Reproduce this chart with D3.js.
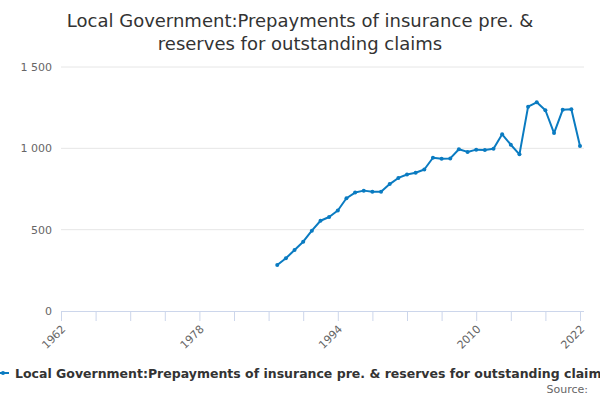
<!DOCTYPE html>
<html>
<head>
<meta charset="utf-8">
<script src="https://cdn.jsdelivr.net/npm/d3@7"></script>
<style>
  body { margin: 0; background: #fff; }
  text { font-family: "DejaVu Sans", sans-serif; }
</style>
</head>
<body>
<div id="chart"></div>
<script>
// chart data
const years = [1987, 1988, 1989, 1990, 1991, 1992, 1993, 1994, 1995, 1996,
  1997, 1998, 1999, 2000, 2001, 2002, 2003, 2004, 2005, 2006,
  2007, 2008, 2009, 2010, 2011, 2012, 2013, 2014, 2015, 2016,
  2017, 2018, 2019, 2020, 2021, 2022];
const values = [283, 324, 375, 426, 494, 555, 578, 618, 693, 728,
  740, 733, 733, 780, 818, 839, 850, 870, 942, 936,
  938, 994, 978, 992, 990, 998, 1086, 1022, 963, 1256,
  1283, 1234, 1094, 1237, 1240, 1014];
const yTicks = [0, 500, 1000, 1500];
const xTicks = d3.range(1962, 2023, 4);
const xLabels = [1962, 1978, 1994, 2010, 2022];
const seriesName = "Local Government:Prepayments of insurance pre. & reserves for outstanding claims";
const titleLines = ["Local Government:Prepayments of insurance pre. &", "reserves for outstanding claims"];

const svgWidth = 600;
const svgHeight = 400;
const margin = {t: 67, r: 16, b: 89, l: 61};
const width = svgWidth - margin.l - margin.r;
const height = svgHeight - margin.t - margin.b;
const color = "#0a7bc1";

const svg = d3.select("#chart").append("svg")
  .attr("width", svgWidth)
  .attr("height", svgHeight);

// title
svg.append("text")
  .attr("x", svgWidth / 2)
  .attr("y", 27)
  .attr("text-anchor", "middle")
  .attr("font-size", "18px")
  .attr("fill", "#333")
  .selectAll("tspan")
  .data(titleLines)
  .enter()
  .append("tspan")
  .attr("x", svgWidth / 2)
  .attr("dy", (d, i) => i === 0 ? 0 : 23)
  .text(d => d);

const chartGroup = svg.append("g")
  .attr("transform", `translate(${margin.l}, ${margin.t})`);

// 2022 sits a little in from the end of the axis line
const xScale = d3.scaleLinear().domain([1962, 2022]).range([0, width - 4]);
const yScale = d3.scaleLinear().domain([0, 1500]).range([height, 0]);

// gridlines
chartGroup.append("g")
  .selectAll("line")
  .data(yTicks.filter(d => d > 0))
  .enter()
  .append("line")
  .attr("x1", 0)
  .attr("x2", width)
  .attr("y1", d => yScale(d))
  .attr("y2", d => yScale(d))
  .attr("stroke", "#e6e6e6")
  .attr("stroke-width", 1);

// y axis labels
const fmt = d => d3.format(",")(d).replace(/,/g, " ");
const yAxis = chartGroup.append("g")
  .call(d3.axisLeft(yScale).tickValues(yTicks).tickFormat(fmt).tickSize(0).tickPadding(9));
yAxis.select(".domain").remove();
yAxis.selectAll("text")
  .attr("font-family", "DejaVu Sans, sans-serif")
  .attr("font-size", "11px")
  .attr("fill", "#666");

// x axis
const xAxis = chartGroup.append("g")
  .attr("transform", `translate(0, ${height})`)
  .call(d3.axisBottom(xScale).tickValues(xTicks).tickSize(10).tickSizeOuter(0)
    .tickFormat(d => xLabels.includes(d) ? d : ""));
xAxis.select(".domain").remove();
xAxis.append("line")
  .attr("x1", 0).attr("x2", width)
  .attr("y1", 0.5).attr("y2", 0.5)
  .attr("stroke", "#ccd6eb");
xAxis.selectAll(".tick line").attr("stroke", "#ccd6eb");
xAxis.selectAll("text")
  .attr("font-family", "DejaVu Sans, sans-serif")
  .attr("font-size", "11px")
  .attr("fill", "#666")
  .attr("text-anchor", "end")
  .attr("x", 0)
  .attr("y", 0)
  .attr("dy", "0.35em")
  .attr("transform", "translate(2, 16) rotate(-45)");

// line + markers
const line = d3.line()
  .x((d, i) => xScale(years[i]))
  .y(d => yScale(d));

chartGroup.append("path")
  .datum(values)
  .attr("fill", "none")
  .attr("stroke", color)
  .attr("stroke-width", 2)
  .attr("stroke-linejoin", "round")
  .attr("d", line);

chartGroup.append("g")
  .selectAll("circle")
  .data(values)
  .enter()
  .append("circle")
  .attr("cx", (d, i) => xScale(years[i]))
  .attr("cy", d => yScale(d))
  .attr("r", 2)
  .attr("fill", color);

// legend (runs off the right edge, as in the original)
const legend = svg.append("g").attr("transform", "translate(0, 373)");
legend.append("line")
  .attr("x1", -2).attr("x2", 9)
  .attr("y1", 0).attr("y2", 0)
  .attr("stroke", color)
  .attr("stroke-width", 2);
legend.append("circle")
  .attr("cx", 3).attr("cy", 0).attr("r", 2)
  .attr("fill", color);
legend.append("text")
  .attr("x", 15)
  .attr("y", 5)
  .attr("font-size", "12.5px")
  .attr("font-weight", "bold")
  .attr("fill", "#333")
  .text(seriesName);

svg.append("text")
  .attr("x", 588)
  .attr("y", 393)
  .attr("text-anchor", "end")
  .attr("font-size", "11px")
  .attr("fill", "#666")
  .text("Source:");
</script>
</body>
</html>
